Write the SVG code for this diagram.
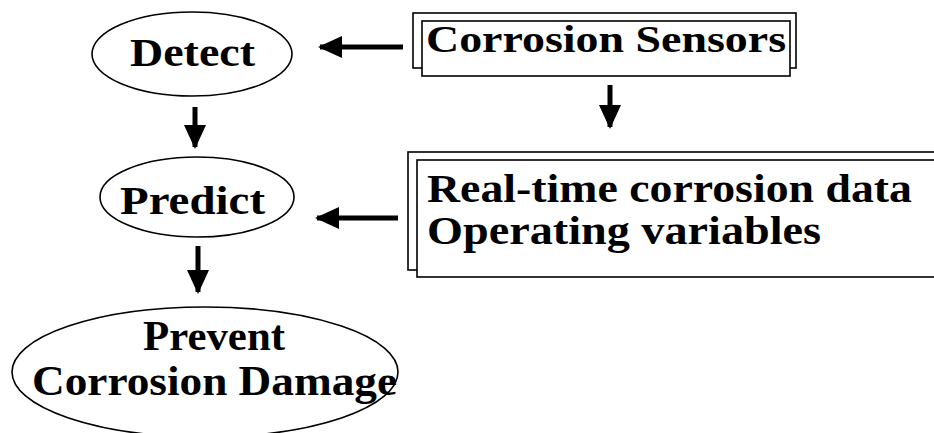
<svg xmlns="http://www.w3.org/2000/svg" width="934" height="433" viewBox="0 0 934 433">
<style>
.t{font-family:"Liberation Serif","Times New Roman",serif;font-weight:bold;fill:#000}
.e{fill:none;stroke:#000;stroke-width:1.6}
.b{fill:#fff;stroke:#000;stroke-width:1.6}
.c{stroke:#000;stroke-width:5;fill:none}
</style>
<defs>
<marker id="ah" markerUnits="userSpaceOnUse" markerWidth="24" markerHeight="24" viewBox="0 0 24 24" refX="22" refY="12" orient="auto">
<path d="M0,1 L24,12 L0,23 Z" fill="#000"/>
</marker>
</defs>
<rect width="934" height="433" fill="#fff"/>
<g id="detect">
<ellipse class="e" cx="192" cy="54" rx="100" ry="42"/>
<text class="t" x="130" y="66" font-size="39" textLength="125" lengthAdjust="spacingAndGlyphs">Detect</text>
</g>
<g id="sensors">
<rect class="b" x="413" y="13" width="383" height="55"/>
<rect class="b" x="422" y="21" width="368" height="55"/>
<text class="t" x="426" y="52" font-size="38" textLength="360" lengthAdjust="spacingAndGlyphs">Corrosion Sensors</text>
</g>
<g id="predict">
<ellipse class="e" cx="197" cy="197" rx="97" ry="40"/>
<text class="t" x="120" y="214" font-size="39" textLength="145" lengthAdjust="spacingAndGlyphs">Predict</text>
</g>
<g id="data">
<rect class="b" x="408" y="152" width="530" height="118"/>
<rect class="b" x="417" y="160" width="521" height="117"/>
<text class="t" x="427" y="202" font-size="40" textLength="485" lengthAdjust="spacingAndGlyphs">Real-time corrosion data</text>
<text class="t" x="427" y="244" font-size="40" textLength="394" lengthAdjust="spacingAndGlyphs">Operating variables</text>
</g>
<g id="prevent">
<ellipse class="e" cx="205" cy="372" rx="193" ry="65"/>
<text class="t" x="143" y="350" font-size="42" textLength="142" lengthAdjust="spacingAndGlyphs">Prevent</text>
<text class="t" x="32" y="395" font-size="42" textLength="365" lengthAdjust="spacingAndGlyphs">Corrosion Damage</text>
</g>
<g id="connectors">
<line class="c" x1="403" y1="47" x2="320" y2="47" marker-end="url(#ah)"/>
<line class="c" x1="610" y1="85" x2="610" y2="127" marker-end="url(#ah)"/>
<line class="c" x1="195" y1="107" x2="195" y2="147" marker-end="url(#ah)"/>
<line class="c" x1="398" y1="218" x2="317" y2="218" marker-end="url(#ah)"/>
<line class="c" x1="198" y1="246" x2="198" y2="292" marker-end="url(#ah)"/>
</g>
</svg>
